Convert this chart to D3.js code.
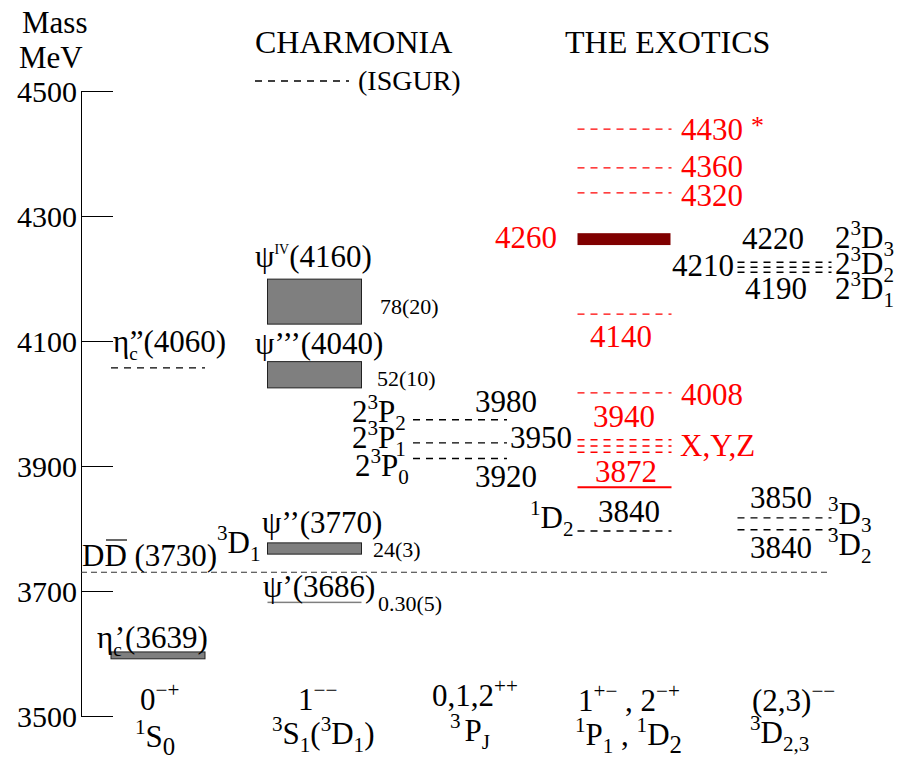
<!DOCTYPE html>
<html><head><meta charset="utf-8">
<script src="https://cdn.jsdelivr.net/npm/d3@7/dist/d3.min.js"></script>
<style>
html,body{margin:0;padding:0;background:#fff;}
svg text{font-family:"Liberation Serif","Times New Roman",serif;}
</style></head>
<body>
<svg id="c" width="903" height="760"></svg>
<script>
// ---------------- DATA ----------------
const tickValues = [3500, 3700, 3900, 4100, 4300, 4500];
const columns = ["1S0", "3S1", "3PJ", "1P1_1D2", "3D23"];

// observed charmonium states (grey boxes) – plotted centre & drawn width in MeV
const obsNames  = ["eta_c'", "psi'", "psi''", "psi'''", "psiIV"];
const obsColumn = ["1S0", "3S1", "3S1", "3S1", "3S1"];
const obsMass   = [3597, 3682, 3768, 4046, 4163];
const obsWidth  = [11, 2, 18, 42, 72];

// Isgur predictions (black dashed levels)
const isgurColumn = ["1S0", "3PJ", "3PJ", "3PJ", "1P1_1D2", "3D23", "3D23", "3D23", "3D23", "3D23"];
const isgurMass   = [4057, 3974, 3937, 3912, 3796, 4226, 4218, 4210, 3817, 3798];

// exotic states (red dashed levels)
const exoticMass = [4439, 4377, 4337, 4143, 4017, 3942, 3932, 3922];
// X(3872) (red solid) and Y(4260) (dark red box)
const x3872Mass = 3866;
const y4260Mass = 4263, y4260Width = 19;
// D Dbar threshold
const ddbarMass = 3730;

// ---------------- SCALES ----------------
const svg = d3.select("#c");
const y = d3.scaleLinear().domain([3500, 4500]).range([716, 91]);
const xc = d3.scaleOrdinal().domain(columns).range([158, 314.5, 460, 624.5, 784.5]);
const halfW = 47;
const FS = 31;

// ---------------- AXIS ----------------
const axis = d3.axisLeft(y).tickValues(tickValues).tickSize(-32).tickSizeOuter(0).tickPadding(4).tickFormat(d3.format("d"));
const ag = svg.append("g").attr("transform", "translate(81,0)").call(axis);
ag.select(".domain").attr("stroke", "#000").attr("stroke-width", 1);
ag.selectAll(".tick line").attr("stroke", "#000").attr("stroke-width", 1);
ag.selectAll(".tick text").attr("font-size", 30).attr("fill", "#000").attr("dy", "0.35em");

// ---------------- helper for rich text ----------------
// part: [text, kind ('sup'|'sub'|null|number offset), dx, sizeScale]
function rich(x, yy, parts, fs, color, anchor) {
  const t = svg.append("text").attr("x", x).attr("y", yy).attr("font-size", fs).attr("fill", color || "#000");
  if (anchor) t.attr("text-anchor", anchor);
  let cur = 0;
  parts.forEach(p => {
    const [s, k, dx, sc] = p;
    const off = k === "sup" ? -0.42 * fs : k === "sub" ? 0.25 * fs : 0;
    const sz = sc ? fs * sc : (k ? fs * 0.68 : fs);
    const ts = t.append("tspan").attr("dy", off - cur).attr("font-size", sz).text(s);
    if (dx) ts.attr("dx", dx);
    cur = off;
  });
  return t;
}

// ---------------- headers ----------------
rich(22, 33, [["Mass"]], FS);
rich(19, 68, [["MeV"]], FS);
rich(255, 53, [["CHARMONIA"]], 32);
rich(565, 53, [["THE EXOTICS"]], 32);
// legend
svg.append("line").attr("x1", 255).attr("x2", 349).attr("y1", 81).attr("y2", 81)
  .attr("stroke", "#000").attr("stroke-width", 1.3).attr("stroke-dasharray", "7,6");
rich(358, 90, [["(ISGUR)"]], 28);

// ---------------- D Dbar threshold ----------------
svg.append("line").attr("x1", 81).attr("x2", 828).attr("y1", y(ddbarMass)).attr("y2", y(ddbarMass))
  .attr("stroke", "#333").attr("stroke-width", 1).attr("stroke-dasharray", "6,4");

// ---------------- observed states ----------------
svg.selectAll("rect.obs").data(obsMass).join("rect").attr("class", "obs")
  .attr("x", (d, i) => xc(obsColumn[i]) - halfW)
  .attr("width", halfW * 2)
  .attr("y", (d, i) => y(d + obsWidth[i] / 2))
  .attr("height", (d, i) => Math.max(1.5, y(d - obsWidth[i] / 2) - y(d + obsWidth[i] / 2)))
  .attr("fill", "#7f7f7f")
  .attr("stroke", (d, i) => obsWidth[i] > 4 ? "#222" : "none")
  .attr("stroke-width", 1);

// ---------------- Isgur predictions ----------------
svg.selectAll("line.isg").data(isgurMass).join("line").attr("class", "isg")
  .attr("x1", (d, i) => xc(isgurColumn[i]) - halfW)
  .attr("x2", (d, i) => xc(isgurColumn[i]) + halfW)
  .attr("y1", d => y(d)).attr("y2", d => y(d))
  .attr("stroke", "#000").attr("stroke-width", 1.3).attr("stroke-dasharray", "7,6");

// ---------------- exotics ----------------
const ex = xc("1P1_1D2");
svg.selectAll("line.exo").data(exoticMass).join("line").attr("class", "exo")
  .attr("x1", ex - halfW).attr("x2", ex + halfW)
  .attr("y1", d => y(d)).attr("y2", d => y(d))
  .attr("stroke", "#ff0000").attr("stroke-width", 1.3).attr("stroke-dasharray", "7,6");
svg.append("line").attr("x1", ex - halfW).attr("x2", ex + halfW)
  .attr("y1", y(x3872Mass)).attr("y2", y(x3872Mass)).attr("stroke", "#ff0000").attr("stroke-width", 2);
svg.append("rect").attr("x", ex - halfW).attr("width", halfW * 2 - 1)
  .attr("y", y(y4260Mass + y4260Width / 2)).attr("height", y(y4260Mass - y4260Width / 2) - y(y4260Mass + y4260Width / 2))
  .attr("fill", "#800000");

// ---------------- labels: 1S0 column ----------------
// eta_c' : prime stacked above the subscript c
rich(97, 648, [["η"], ["c", "sub", 0, 0.62], ["’", null, -7, 1.0], ["(3639)"]], FS);
rich(113, 352, [["η"], ["c", "sub", 0, 0.62], ["”", null, -8, 1.0], ["(4060)"]], FS);
rich(82, 566, [["DD (3730)"]], FS);
svg.append("line").attr("x1", 106).attr("x2", 127).attr("y1", 540).attr("y2", 540).attr("stroke", "#000").attr("stroke-width", 1.2);
rich(217, 553, [["3", "sup"], ["D"], ["1", "sub"]], FS);

// ---------------- labels: 3S1 column ----------------
rich(255, 267, [["ψ"], ["IV", "sup", 0, 0.45], ["(4160)"]], FS);
rich(380, 314, [["78(20)"]], 22);
rich(255, 354, [["ψ’’’(4040)"]], FS);
rich(377, 386, [["52(10)"]], 22);
rich(262, 533, [["ψ’’(3770)"]], FS);
rich(373, 557, [["24(3)"]], 22);
rich(263, 597, [["ψ’(3686)"]], FS);
rich(378, 611, [["0.30(5)"]], 22);

// ---------------- labels: 3PJ column ----------------
rich(352, 422, [["2"], ["3", "sup"], ["P"], ["2", "sub"]], FS);
rich(352, 448, [["2"], ["3", "sup"], ["P"], ["1", "sub"]], FS);
rich(355, 476, [["2"], ["3", "sup"], ["P"], ["0", "sub"]], FS);
rich(475, 412, [["3980"]], FS);
rich(510, 448, [["3950"]], FS);
rich(475, 487, [["3920"]], FS);

// ---------------- labels: exotics ----------------
const red = "#ff0000";
rich(681, 140, [["4430"]], FS, red);
rich(751, 134, [["*"]], 26, red);
rich(681, 177, [["4360"]], FS, red);
rich(681, 206, [["4320"]], FS, red);
rich(495, 248, [["4260"]], FS, red);
rich(590, 347, [["4140"]], FS, red);
rich(681, 405, [["4008"]], FS, red);
rich(593, 427, [["3940"]], FS, red);
rich(680, 456, [["X,Y,Z"]], FS, red);
rich(595, 482, [["3872"]], FS, red);
rich(598, 522, [["3840"]], FS);
rich(530, 528, [["1", "sup"], ["D"], ["2", "sub"]], FS);

// ---------------- labels: 3D column ----------------
rich(742, 249, [["4220"]], FS);
rich(672, 276, [["4210"]], FS);
rich(745, 299, [["4190"]], FS);
rich(835, 248, [["2"], ["3", "sup"], ["D"], ["3", "sub"]], FS);
rich(835, 274, [["2"], ["3", "sup"], ["D"], ["2", "sub"]], FS);
rich(835, 299, [["2"], ["3", "sup"], ["D"], ["1", "sub"]], FS);
rich(750, 508, [["3850"]], FS);
rich(750, 558, [["3840"]], FS);
rich(828, 524, [["3", "sup"], ["D"], ["3", "sub"]], FS);
rich(828, 555, [["3", "sup"], ["D"], ["2", "sub"]], FS);

// ---------------- bottom quantum numbers ----------------
rich(140, 710, [["0"], ["−+", "sup"]], FS);
rich(135, 747, [["1", "sup"], ["S"], ["0", "sub", 0, 0.8]], FS);
rich(298, 710, [["1"], ["−−", "sup"]], FS);
rich(272, 744, [["3", "sup"], ["S"], ["1", "sub"], ["("], ["3", "sup"], ["D"], ["1", "sub"], [")"]], FS);
rich(432, 706, [["0,1,2"], ["++", "sup"]], FS);
rich(450, 741, [["3", "sup"], ["P", null, 4], ["J", "sub"]], FS);
rich(578, 711, [["1"], ["+−", "sup"], [" , 2"], ["−+", "sup"]], FS);
rich(575, 745, [["1", "sup"], ["P"], ["1", "sub"], [" , "], ["1", "sup"], ["D"], ["2", "sub", 0, 0.8]], FS);
rich(752, 711, [["(2,3)"], ["−−", "sup"]], FS);
rich(750, 743, [["3", "sup"], ["D"], ["2,3", "sub"]], FS);
</script>
</body></html>
